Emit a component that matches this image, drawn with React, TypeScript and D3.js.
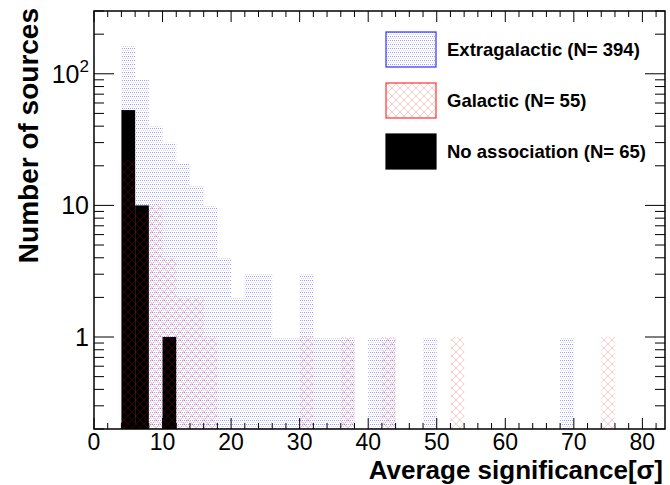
import React from "react";
import * as d3 from "d3";

// bin lower edges (bin width 2 sigma)
const binWidth = 2;
const extragalacticBins = [4, 6, 8, 10, 12, 14, 16, 18, 20, 22, 24, 26, 28, 30, 32, 34, 36, 40, 42, 48, 68];
const extragalacticCounts = [165, 90, 40, 30, 21, 14, 10, 4, 2, 3, 3, 1, 1, 3, 1, 1, 1, 1, 1, 1, 1];
const galacticBins = [4, 6, 8, 10, 12, 14, 16, 30, 36, 42, 52, 74];
const galacticCounts = [22, 9, 10, 4, 2, 2, 1, 1, 1, 1, 1, 1];
const noAssocBins = [4, 6, 10];
const noAssocCounts = [53, 10, 1];

const xTicks = [0, 10, 20, 30, 40, 50, 60, 70, 80];
const yMajorTicks = [1, 10, 100];
const legendLabels = ["Extragalactic (N= 394)", "Galactic (N= 55)", "No association (N= 65)"];

const W = 670;
const H = 485;
const L = 94, R = 665, T = 11, B = 429;
const FONT = "'Liberation Sans', Arial, Helvetica, sans-serif";

export default function App() {
  const x = d3.scaleLinear().domain([0, 83.3]).range([L, R]);
  const y = d3.scaleLog().domain([0.2, 300]).range([B, T]);

  const bars = (bins: number[], counts: number[], fill: string, key: string) =>
    bins.map((b, i) => (
      <rect
        key={key + i}
        x={x(b)}
        y={y(counts[i])}
        width={x(b + binWidth) - x(b)}
        height={B - y(counts[i])}
        fill={fill}
      />
    ));

  const xMinor = d3.range(0, 84, 2);
  const yMinor: number[] = [];
  [0.1, 1, 10, 100].forEach((d) => {
    for (let k = 2; k <= 9; k++) {
      const v = d * k;
      if (v >= 0.2 && v <= 300) yMinor.push(v);
    }
  });

  const legendY = [32, 83, 134];
  const legendFills = ["url(#blueDots)", "url(#redHatch)", "#000"];
  const legendStroke = ["#3333ff", "#ff3333", "#000"];

  return (
    <svg width={W} height={H} style={{ position: "absolute", left: 0, top: 0 }}>
      <defs>
        <pattern id="blueDots" patternUnits="userSpaceOnUse" width={4} height={4}>
          <rect x={0} y={0} width={1} height={1} fill="rgba(40,40,255,0.45)" />
          <rect x={2} y={0} width={1} height={1} fill="rgba(40,40,255,0.45)" />
          <rect x={1} y={2} width={1} height={1} fill="rgba(40,40,255,0.2)" />
          <rect x={3} y={2} width={1} height={1} fill="rgba(40,40,255,0.2)" />
        </pattern>
        <pattern id="redHatch" patternUnits="userSpaceOnUse" width={8} height={8}>
          <path d="M0,0 L8,8 M8,0 L0,8" stroke="rgba(255,0,0,0.2)" strokeWidth={1} fill="none" />
        </pattern>
      </defs>
      <rect x={0} y={0} width={W} height={H} fill="#fff" />
      {bars(extragalacticBins, extragalacticCounts, "url(#blueDots)", "e")}
      {bars(noAssocBins, noAssocCounts, "#000", "n")}
      {bars(galacticBins, galacticCounts, "url(#redHatch)", "g")}

      {/* frame */}
      <rect x={L} y={T} width={R - L} height={B - T} fill="none" stroke="#000" strokeWidth={1.5} />

      {/* x ticks */}
      {xMinor.map((v) => {
        const major = v % 10 === 0;
        const len = major ? 11 : 6;
        return (
          <g key={"xt" + v}>
            <line x1={x(v)} x2={x(v)} y1={B} y2={B - len} stroke="#000" strokeWidth={1} />
            <line x1={x(v)} x2={x(v)} y1={T} y2={T + len} stroke="#000" strokeWidth={1} />
          </g>
        );
      })}
      {/* y ticks */}
      {yMajorTicks.map((v) => (
        <g key={"ym" + v}>
          <line x1={L} x2={L + 20} y1={y(v)} y2={y(v)} stroke="#000" strokeWidth={1} />
          <line x1={R} x2={R - 20} y1={y(v)} y2={y(v)} stroke="#000" strokeWidth={1} />
        </g>
      ))}
      {yMinor.map((v) => (
        <g key={"yn" + v}>
          <line x1={L} x2={L + 10} y1={y(v)} y2={y(v)} stroke="#000" strokeWidth={1} />
          <line x1={R} x2={R - 10} y1={y(v)} y2={y(v)} stroke="#000" strokeWidth={1} />
        </g>
      ))}

      {/* x tick labels */}
      {xTicks.map((v) => (
        <text key={"xl" + v} x={x(v)} y={450} textAnchor="middle" fontFamily={FONT} fontSize={23} fill="#000">
          {v}
        </text>
      ))}
      {/* y tick labels */}
      <text x={89} y={y(1) + 9} textAnchor="end" fontFamily={FONT} fontSize={25}>1</text>
      <text x={89} y={y(10) + 9} textAnchor="end" fontFamily={FONT} fontSize={25}>10</text>
      <text x={89} y={y(100) + 9} textAnchor="end" fontFamily={FONT} fontSize={25}>
        10<tspan fontSize={17} dy={-11}>2</tspan>
      </text>

      {/* axis titles */}
      <text x={663} y={479} textAnchor="end" fontFamily={FONT} fontWeight="bold" fontSize={26}>
        Average significance[σ]
      </text>
      <text
        transform={`translate(38, 8) rotate(-90)`}
        textAnchor="end"
        fontFamily={FONT}
        fontWeight="bold"
        fontSize={28}
      >
        Number of sources
      </text>

      {/* legend */}
      {legendLabels.map((lab, i) => (
        <g key={"lg" + i}>
          <rect x={386} y={legendY[i]} width={50} height={35} fill={legendFills[i]} stroke={legendStroke[i]} strokeWidth={1.2} />
          <text x={447} y={legendY[i] + 24} fontFamily={FONT} fontWeight="bold" fontSize={18.5}>
            {lab}
          </text>
        </g>
      ))}
    </svg>
  );
}
